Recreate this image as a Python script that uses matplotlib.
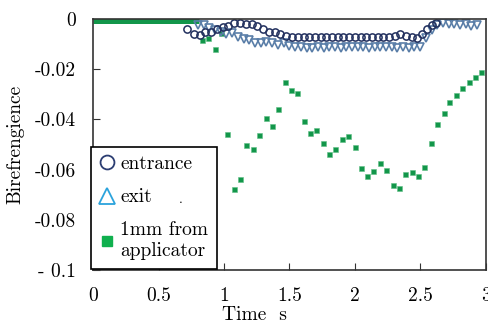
import numpy as np
import matplotlib
matplotlib.use('Agg')
import matplotlib.pyplot as plt
from matplotlib.lines import Line2D

plt.rcParams['font.family'] = 'serif'
plt.rcParams['font.serif'] = ['cmr10', 'DejaVu Serif']
plt.rcParams['axes.unicode_minus'] = False
plt.rcParams['mathtext.fontset'] = 'cm'

# entrance (open circles)
t_ent = [0.719, 0.770, 0.813, 0.857, 0.901, 0.946, 0.989, 1.033, 1.079, 1.122,
         1.165, 1.211, 1.255, 1.301, 1.347, 1.387, 1.431, 1.477, 1.520, 1.564,
         1.607, 1.651, 1.694, 1.737, 1.781, 1.824, 1.868, 1.911, 1.955, 1.998,
         2.042, 2.085, 2.129, 2.172, 2.215, 2.259, 2.302, 2.346, 2.389, 2.433,
         2.476, 2.515, 2.553, 2.590, 2.617]
b_ent = [-0.0040, -0.0059, -0.0063, -0.0053, -0.0051, -0.0041, -0.0031, -0.0027, -0.0017, -0.0015,
         -0.0020, -0.0021, -0.0029, -0.0040, -0.0052, -0.0053, -0.0061, -0.0068, -0.0070, -0.0071,
         -0.0071, -0.0072, -0.0071, -0.0071, -0.0072, -0.0071, -0.0071, -0.0071, -0.0072, -0.0071,
         -0.0071, -0.0071, -0.0070, -0.0071, -0.0071, -0.0070, -0.0066, -0.0061, -0.0068, -0.0070,
         -0.0077, -0.0058, -0.0041, -0.0025, -0.0014]

# exit (open down triangles)
t_exit = [0.800, 0.844, 0.888, 0.931, 0.974, 1.018, 1.061, 1.107, 1.150, 1.194,
          1.239, 1.283, 1.324, 1.367, 1.413, 1.456, 1.500, 1.543, 1.587, 1.630,
          1.673, 1.717, 1.760, 1.804, 1.847, 1.890, 1.934, 1.977, 2.020, 2.064,
          2.107, 2.151, 2.194, 2.237, 2.281, 2.324, 2.367, 2.411, 2.454, 2.497,
          2.541, 2.584, 2.628, 2.671, 2.714, 2.758, 2.800, 2.845, 2.888, 2.931]
b_exit = [-0.0024, -0.0025, -0.0037, -0.0044, -0.0053, -0.0058, -0.0057, -0.0070, -0.0078, -0.0084,
          -0.0096, -0.0097, -0.0093, -0.0097, -0.0104, -0.0097, -0.0108, -0.0112, -0.0110, -0.0114,
          -0.0116, -0.0112, -0.0115, -0.0111, -0.0113, -0.0116, -0.0110, -0.0111, -0.0113, -0.0112,
          -0.0114, -0.0112, -0.0110, -0.0113, -0.0111, -0.0115, -0.0113, -0.0116, -0.0112, -0.0113,
          -0.0077, -0.0044, -0.0024, -0.0017, -0.0020, -0.0021, -0.0024, -0.0020, -0.0026, -0.0025]

# 1mm from applicator (filled squares)
t_app = [0.834, 0.880, 0.928, 0.977, 1.025, 1.073, 1.122, 1.170, 1.219, 1.270,
         1.318, 1.367, 1.413, 1.464, 1.510, 1.558, 1.607, 1.658, 1.706, 1.752,
         1.803, 1.850, 1.900, 1.949, 1.997, 2.043, 2.094, 2.140, 2.188, 2.236,
         2.288, 2.336, 2.385, 2.433, 2.479, 2.530, 2.578, 2.627, 2.676, 2.720,
         2.770, 2.818, 2.867, 2.913, 2.960]
b_app = [-0.0084, -0.0076, -0.0121, -0.0057, -0.0459, -0.0679, -0.0637, -0.0503, -0.0517, -0.0462,
         -0.0396, -0.0425, -0.0360, -0.0251, -0.0284, -0.0295, -0.0405, -0.0456, -0.0442, -0.0495,
         -0.0537, -0.0518, -0.0477, -0.0465, -0.0510, -0.0594, -0.0625, -0.0607, -0.0575, -0.0603,
         -0.0660, -0.0672, -0.0618, -0.0608, -0.0625, -0.0590, -0.0495, -0.0417, -0.0373, -0.0329,
         -0.0303, -0.0274, -0.0251, -0.0232, -0.0212]
# flat part before start (dense squares, drawn as a band)
t_flat = [0.0, 0.81]
b_flat = [-0.0009, -0.0009]

yticks = [0, -0.02, -0.04, -0.06, -0.08, -0.1]
ylabels = ['0', '-0.02', '-0.04', '-0.06', '-0.08', '- 0.1']
xticks = [0, 0.5, 1, 1.5, 2, 2.5, 3]
xlabels = ['0', '0.5', '1', '1.5', '2', '2.5', '3']

navy = '#22305e'
steel = '#5a7ea8'
green = '#12964a'

fig = plt.figure(figsize=(4.88, 3.23), dpi=100)
ax = fig.add_axes([93/488, 1-270/323, 393/488, 251/323])

ax.plot(t_flat, b_flat, color=green, lw=3.6, solid_capstyle='butt')
ax.plot(t_app, b_app, 's', color=green, ms=3.6, mec='#5fbf85', mew=0.4)
ax.plot(t_exit, b_exit, 'v', mfc='none', mec=steel, ms=5.5, mew=1.2)
ax.plot(t_ent, b_ent, 'o', mfc='none', mec=navy, ms=5.2, mew=1.1)

ax.set_xlim(0, 3)
ax.set_ylim(-0.1, 0)
ax.set_xticks(xticks)
ax.set_xticklabels(xlabels)
ax.set_yticks(yticks)
ax.set_yticklabels(ylabels)
ax.tick_params(direction='in', length=5, width=0.8, labelsize=14, color='#333333')
ax.tick_params(axis='x', pad=12)
ax.tick_params(axis='y', pad=12)
for s in ax.spines.values():
    s.set_color('#333333')
    s.set_linewidth(1.2)

ax.set_ylabel('Birefrengience', fontsize=14)
ax.yaxis.set_label_coords(-0.175, 0.5)
ax.set_xlabel('Time  s', fontsize=14)
ax.xaxis.set_label_coords(0.41, -0.145)

handles = [Line2D([], [], ls='none', marker='o', mfc='none', mec='#2b3d72', ms=10, mew=1.3),
           Line2D([], [], ls='none', marker='^', mfc='none', mec='#2ba3dc', ms=11, mew=1.3),
           Line2D([], [], ls='none', marker='s', color='#10b04e', ms=7.5)]
leg = ax.legend(handles, ['entrance', 'exit', '1mm from\napplicator'],
                loc='lower left', bbox_to_anchor=(-0.005, 0.004), borderaxespad=0,
                fontsize=14, frameon=True, fancybox=False, framealpha=1,
                edgecolor='black', handlelength=0.7, handletextpad=0.35,
                labelspacing=0.78, borderpad=0.45)
leg.get_frame().set_linewidth(1.2)
ax.text(0.219, 0.267, '.', transform=ax.transAxes, fontsize=10, zorder=10)

fig.savefig('out.png', dpi=100)
